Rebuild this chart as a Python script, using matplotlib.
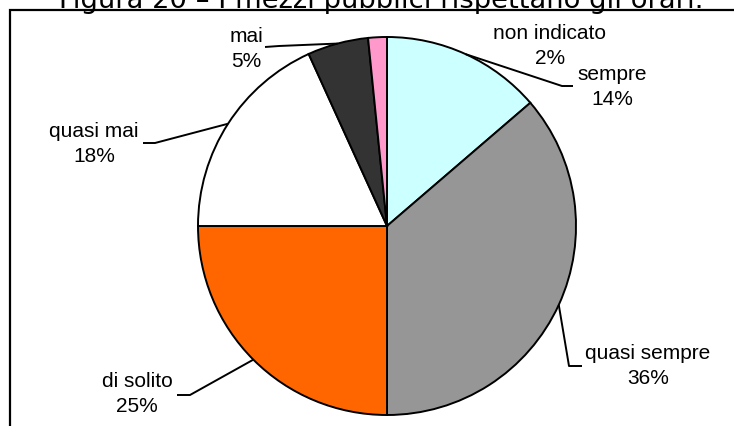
import matplotlib
matplotlib.use("Agg")
import matplotlib.pyplot as plt
import numpy as np

# ---- data ----
categories = ["sempre", "quasi sempre", "di solito", "quasi mai", "mai", "non indicato"]
values = [13.7, 36.3, 25.0, 18.2, 5.2, 1.6]
colors = ["#CCFFFF", "#969696", "#FF6600", "#FFFFFF", "#333333", "#FF99CC"]
title = "Figura 20 \u2013 I mezzi pubblici rispettano gli orari."

W, H = 734, 427
fig = plt.figure(figsize=(W / 100, H / 100), dpi=100)
ax = fig.add_axes([0, 0, 1, 1])

def Y(y):  # pixel row (from top) -> data y
    return H - y

cx, cy, r = 387, Y(227), 189
wedges, _ = ax.pie(values, colors=colors, startangle=90, counterclock=False,
                   center=(cx, cy), radius=r,
                   wedgeprops=dict(edgecolor="black", linewidth=1.4))
ax.set_xlim(0, W)
ax.set_ylim(0, H)
ax.set_aspect("equal")
ax.axis("off")

# label layout (pixel coords): text block centre, elbow, end of leader (None -> no leader)
layout = {
    "sempre":       ((612, 87),  (562, 87),  (573, 87)),
    "quasi sempre": ((648, 366), (569, 367), (582, 367)),
    "di solito":    ((137, 394), (190, 396), (177, 396)),
    "quasi mai":    ((94, 144),  (155, 144), (143, 144)),
    "mai":          ((246, 49),  (279, 47),  (265, 48)),
    "non indicato": ((550, 46),  None, None),
}

for w, cat, v in zip(wedges, categories, values):
    (tx, ty), elbow, end = layout[cat]
    ax.text(tx, Y(ty), f"{cat}\n{round(v)}%", ha="center", va="center",
            multialignment="center", fontsize=15, family="Liberation Sans",
            linespacing=1.45, color="black")
    if elbow is not None:
        mid = np.deg2rad((w.theta1 + w.theta2) / 2)
        ex, ey = cx + r * np.cos(mid), cy + r * np.sin(mid)
        ax.plot([ex, elbow[0], end[0]], [ey, Y(elbow[1]), Y(end[1])],
                color="black", lw=1.4, solid_capstyle="butt", clip_on=False)

# frame (top and left border)
ax.plot([10, 10, W], [0, Y(11), Y(11)], color="black", lw=1.6, clip_on=False,
        solid_joinstyle="miter")

# title (clipped at the top of the image, as in the reference)
ax.text(381.5, Y(7.5), title, ha="center", va="baseline", fontsize=19.7,
        family="DejaVu Sans", color="black")

fig.savefig("out.png", dpi=100)
